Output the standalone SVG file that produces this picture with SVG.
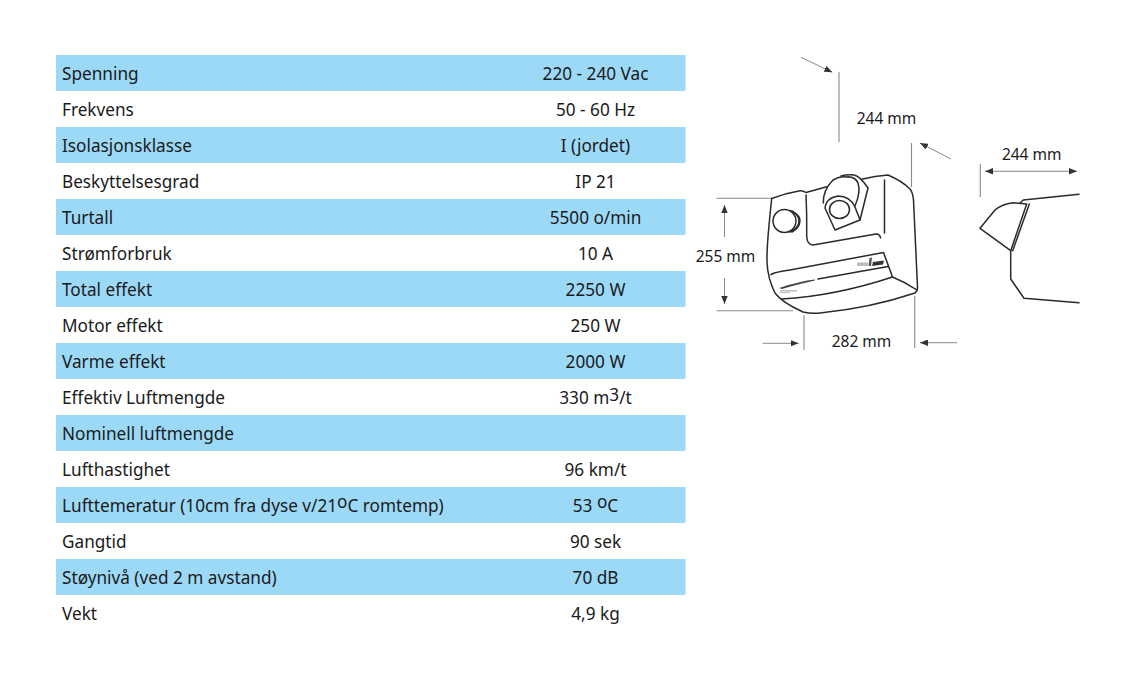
<svg xmlns="http://www.w3.org/2000/svg" width="1140" height="675" viewBox="0 0 1140 675">
<style>
.band{fill:#9cd9f7}
text{font-family:"Noto Sans","Open Sans","Liberation Sans",sans-serif;font-size:17.2px;fill:#1a1a1a}
.v{text-anchor:middle}
.d{font-size:15.5px}
.o{fill:none;stroke:#2a2a2a;stroke-width:1.5;stroke-linecap:round;stroke-linejoin:round}
.g{fill:none;stroke:#8a8a8a;stroke-width:1.1}
.a{fill:none;stroke:#8a8a8a;stroke-width:1;marker-end:url(#ah)}
</style>
<defs><marker id="ah" viewBox="0 0 10 8" refX="10" refY="4" markerWidth="8" markerHeight="6.4" markerUnits="userSpaceOnUse" orient="auto"><path d="M0 0L10 4L0 8Z" fill="#333"/></marker></defs>
<rect width="1140" height="675" fill="#fff"/>
<g id="table">
<rect class="band" x="56" y="55" width="629.5" height="36"/>
<rect class="band" x="56" y="127" width="629.5" height="36"/>
<rect class="band" x="56" y="199" width="629.5" height="36"/>
<rect class="band" x="56" y="271" width="629.5" height="36"/>
<rect class="band" x="56" y="343" width="629.5" height="36"/>
<rect class="band" x="56" y="415" width="629.5" height="36"/>
<rect class="band" x="56" y="487" width="629.5" height="36"/>
<rect class="band" x="56" y="559" width="629.5" height="36"/>
<text x="62" y="80">Spenning</text><text class="v" x="595.5" y="80">220 - 240 Vac</text>
<text x="62" y="116">Frekvens</text><text class="v" x="595.5" y="116">50 - 60 Hz</text>
<text x="62" y="152">Isolasjonsklasse</text><text class="v" x="595.5" y="152">I (jordet)</text>
<text x="62" y="188">Beskyttelsesgrad</text><text class="v" x="595.5" y="188">IP 21</text>
<text x="62" y="224">Turtall</text><text class="v" x="595.5" y="224">5500 o/min</text>
<text x="62" y="260">Strømforbruk</text><text class="v" x="595.5" y="260">10 A</text>
<text x="62" y="296">Total effekt</text><text class="v" x="595.5" y="296">2250 W</text>
<text x="62" y="332">Motor effekt</text><text class="v" x="595.5" y="332">250 W</text>
<text x="62" y="368">Varme effekt</text><text class="v" x="595.5" y="368">2000 W</text>
<text x="62" y="404">Effektiv Luftmengde</text><text class="v" x="595.5" y="404">330 m<tspan dy="-3">3</tspan><tspan dy="3">/t</tspan></text>
<text x="62" y="440">Nominell luftmengde</text>
<text x="62" y="476">Lufthastighet</text><text class="v" x="595.5" y="476">96 km/t</text>
<text x="62" y="512">Lufttemeratur (10cm fra dyse v/21<tspan dy="-4">o</tspan><tspan dy="4">C romtemp)</tspan></text><text class="v" x="595.5" y="512">53 <tspan dy="-4">o</tspan><tspan dy="4">C</tspan></text>
<text x="62" y="548">Gangtid</text><text class="v" x="595.5" y="548">90 sek</text>
<text x="62" y="584">Støynivå (ved 2 m avstand)</text><text class="v" x="595.5" y="584">70 dB</text>
<text x="62" y="620">Vekt</text><text class="v" x="595.5" y="620">4,9 kg</text>
</g>
<g id="dimensions">
<path class="g" d="M839 72V142M911.5 143V187M716.7 198.3H771.7M716.7 310.7H793M804 315V350M914.7 296V348M980.3 164V197"/>
<path class="a" d="M801 57.3L832.3 72.3"/>
<path class="a" d="M951 159L920 143"/>
<path class="a" d="M724.5 237V205"/>
<path class="a" d="M724.5 278V304"/>
<path class="a" d="M762.7 343.3H798.5"/>
<path class="a" d="M957 342.7H920"/>
<path class="a" d="M1000 171.3H985"/>
<path class="a" d="M1000 171.3H1077"/>
<text class="d v" x="886.5" y="124">244 mm</text>
<text class="d v" x="1031.7" y="160">244 mm</text>
<text class="d v" x="725.5" y="261.5">255 mm</text>
<text class="d v" x="861.5" y="347">282 mm</text>
</g>
<g id="dryer-front">
<path class="o" d="M826.7 186.7L806 192.5Q803 190.5 800 190.7Q786 193 771.7 198.5C769 225 766.5 245 767 262C767.5 275 770 283 775 293C780 300 792 307 803 312Q812 314 822 312.7Q870 308 915 293Q917.5 291 917.5 287L913.5 200Q913 193 910 189Q902 181 888 175Q875 176 861.7 179.3"/>
<path class="o" d="M806 195Q807 215 806.7 236Q807 245 813 245L876 234Q880 234 880.5 238"/>
<path class="o" d="M884.5 180V233"/>
<path class="o" d="M771 274.5Q775 272 790 270L883.5 252.5L892.5 277Q905 282 917 290"/>
<path class="o" d="M781.7 299Q835 296 892.5 277"/>
<path class="o" d="M818 279L888 266.5"/>
<path d="M779 288Q800 281 815 279.5L815 280.5Q795 285 782 289Z" fill="#444"/>
<path d="M780 290H797V291.5H780ZM780 292H790V293H780Z" fill="#bbb"/>
<path d="M857 262.5H868V266H857Z" fill="#bbb"/>
<path d="M869.5 258L872 257.5L871 266H868.5Z" fill="#555"/>
<path d="M873 262L884 260.5L883 264.5L872 266Z" fill="#333"/>
<path class="o" d="M825 208Q826 198 838 196Q850 196 855 207L860 220L835 230Z"/>
<path class="o" d="M823.3 203Q823 190 833 180Q840 176 846 177Q855 176 858 183Q861 192 855 206"/>
<path class="o" d="M841 176Q848 174 854 175Q860 176 868 188L860 220"/>
<ellipse class="o" cx="839.5" cy="209.5" rx="10" ry="9"/>
<circle class="o" cx="784.5" cy="221" r="11.5"/>
<path class="o" d="M790 210.500Q799 214 799 221Q799 228 790 232M792 211Q800.500 216 800 221Q799.500 228 792 232"/>
</g>
<g id="dryer-side">
<path class="o" d="M1020 203L1023.3 200L1079 194.3"/>
<path class="o" d="M980 228.3L995 210Q1002 204 1013 202.7L1026.7 204L1010.7 250.7Z"/>
<path class="o" d="M1029.3 204L1012.7 250.7"/>
<path class="o" d="M1010.7 250.7V279L1024 298.3L1079 302.7"/>
</g>
</svg>
